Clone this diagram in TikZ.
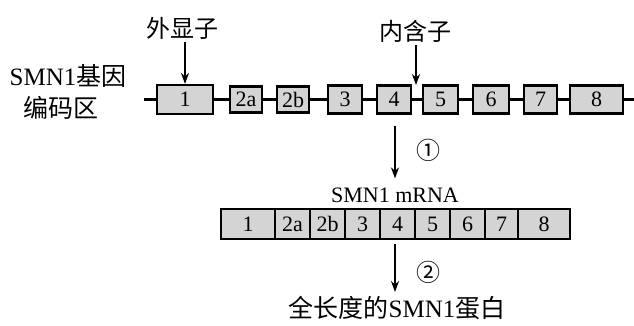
\documentclass[tikz,border=0pt]{standalone}
\usepackage{fontspec}
\setmainfont{Liberation Serif}
\newfontfamily\cjk{Noto Sans CJK SC}
\usetikzlibrary{arrows.meta}
\definecolor{boxgray}{gray}{0.83}
\begin{document}
\begin{tikzpicture}[x=1pt,y=-1pt,
  gbox/.style={draw=black, line width=2.2pt, fill=boxgray, inner sep=0pt,
    minimum height=28pt, font=\fontsize{22}{22}\selectfont},
  mcell/.style={draw=black, line width=2.2pt, fill=boxgray, inner sep=0pt,
    minimum height=30pt, font=\fontsize{22}{22}\selectfont},
  conn/.style={line width=2.2pt},
  arr/.style={line width=2pt, -{Stealth[length=11pt,width=8pt]}},
  lbl/.style={inner sep=0pt, font=\fontsize{25}{27}\selectfont},
  cjklbl/.style={inner sep=0pt, font=\fontsize{24}{26}\selectfont\cjk}
]
\useasboundingbox (0,0) rectangle (634,325);

% gene labels
\node[lbl] (genl1) at (68,76) {SMN1{\cjk\fontsize{25}{27}\selectfont 基因}};
\node[cjklbl, font=\fontsize{25}{27}\selectfont\cjk] (genl2) at (61,108) {编码区};

% gene boxes
\node[gbox, minimum width=56pt, minimum height=29pt] (g1) at (185,99.5) {1};
\node[gbox, minimum width=32pt, minimum height=26pt] (g2a) at (246,99.5) {2a};
\node[gbox, minimum width=32pt, minimum height=26pt] (g2b) at (293,99.5) {2b};
\node[gbox, minimum width=34pt] (g3) at (345,99.5) {3};
\node[gbox, minimum width=34pt] (g4) at (394,99.5) {4};
\node[gbox, minimum width=35pt] (g5) at (440.5,99.5) {5};
\node[gbox, minimum width=36pt] (g6) at (491,99.5) {6};
\node[gbox, minimum width=33pt] (g7) at (540.5,99.5) {7};
\node[gbox, minimum width=53pt] (g8) at (596.5,99.5) {8};
\coordinate (gL) at (144,99.5);
\coordinate (gR) at (634,99.5);

\draw[conn] (gL) -- (g1.west);
\draw[conn] (g1.east) -- (g2a.west);
\draw[conn] (g2a.east) -- (g2b.west);
\draw[conn] (g2b.east) -- (g3.west);
\draw[conn] (g3.east) -- (g4.west);
\draw[conn] (g4.east) -- (g5.west);
\draw[conn] (g5.east) -- (g6.west);
\draw[conn] (g6.east) -- (g7.west);
\draw[conn] (g7.east) -- (g8.west);
\draw[conn] (g8.east) -- (gR);

% exon / intron labels
\node[cjklbl] (exon) at (182,28) {外显子};
\node[cjklbl] (intron) at (415,31) {内含子};
\coordinate (introntip) at (416,85);
\draw[arr, shorten <=3pt] (exon.south -| g1.north) -- (g1.north);
\draw[arr, shorten <=3pt] (intron.south -| introntip) -- (introntip);

% step 1
\node[lbl, font=\fontsize{22}{24}\selectfont] (mlab) at (395,195) {SMN1 mRNA};
\draw[arr, shorten <=11pt, shorten >=9pt] (g4.south -| mlab.north) -- (mlab.north);
\node[cjklbl] (s1) at (428,150) {①};

% mRNA strip
\node[mcell, minimum width=54pt] (m1) at (248,224) {1};
\node[mcell, minimum width=35pt] (m2a) at (292.5,224) {2a};
\node[mcell, minimum width=35pt] (m2b) at (327.5,224) {2b};
\node[mcell, minimum width=35pt] (m3) at (362.5,224) {3};
\node[mcell, minimum width=35pt] (m4) at (397.5,224) {4};
\node[mcell, minimum width=35pt] (m5) at (432.5,224) {5};
\node[mcell, minimum width=35pt] (m6) at (467.5,224) {6};
\node[mcell, minimum width=33pt] (m7) at (501.5,224) {7};
\node[mcell, minimum width=52pt] (m8) at (544,224) {8};

% step 2
\node[lbl] (prot) at (397,308) {{\cjk\fontsize{25}{27}\selectfont 全长度的}SMN1{\cjk\fontsize{25}{27}\selectfont 蛋白}};
\draw[arr, shorten <=4pt, shorten >=4pt] (m4.south -| mlab.north) -- (mlab.north |- prot.north);
\node[cjklbl] (s2) at (428,272) {②};
\end{tikzpicture}
\end{document}
